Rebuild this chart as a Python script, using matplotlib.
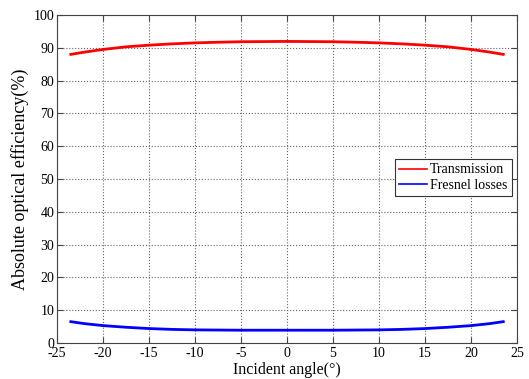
import numpy as np
import matplotlib.pyplot as plt

# Incident angle (deg)
angles = [-23.5, -22, -20, -17.5, -15, -12.5, -10, -7.5, -5, -2.5, 0,
          2.5, 5, 7.5, 10, 12.5, 15, 17.5, 20, 22, 23.5]

# Transmission (%)
transmission = [88.0, 88.7, 89.5, 90.3, 90.8, 91.2, 91.5, 91.7, 91.85, 91.9, 91.95,
                91.9, 91.85, 91.7, 91.5, 91.2, 90.8, 90.3, 89.5, 88.7, 88.0]

# Fresnel losses (%)
fresnel = [6.5, 5.9, 5.3, 4.8, 4.4, 4.15, 4.0, 3.95, 3.9, 3.9, 3.9,
           3.9, 3.9, 3.95, 4.0, 4.15, 4.4, 4.8, 5.3, 5.9, 6.5]

xticks = np.arange(-25, 26, 5)
yticks = np.arange(0, 101, 10)

plt.rcParams["font.family"] = ["Liberation Serif", "DejaVu Serif"]
plt.rcParams["axes.unicode_minus"] = False

fig = plt.figure(figsize=(5.29, 3.79), dpi=100)
ax = fig.add_axes([0.1078, 0.095, 0.8696, 0.8654])

ax.plot(angles, transmission, color="red", linewidth=2, label="Transmission")
ax.plot(angles, fresnel, color="blue", linewidth=2, label="Fresnel losses")

ax.set_xlim(-25, 25)
ax.set_ylim(0, 100)
ax.set_xticks(xticks)
ax.set_yticks(yticks)
ax.tick_params(direction="in", labelsize=10, length=4, top=True, right=True,
               color="#444444")
ax.tick_params(axis="x", pad=3)
ax.tick_params(axis="y", pad=2)

ax.grid(True, linestyle=":", color="#666666", linewidth=0.8)
ax.set_axisbelow(True)

ax.set_xlabel("Incident angle(°)", fontsize=11.5, labelpad=1)
ax.set_ylabel("Absolute optical efficiency(%)", fontsize=13, labelpad=3)

for s in ax.spines.values():
    s.set_color("#444444")

leg = ax.legend(
    loc="upper right",
    bbox_to_anchor=(0.988, 0.56),
    fontsize=10,
    fancybox=False,
    framealpha=1,
    edgecolor="#333333",
    handlelength=2.0,
    handletextpad=0.2,
    borderpad=0.3,
    borderaxespad=0,
    labelspacing=0.2,
)
leg.get_frame().set_linewidth(0.8)
for line in leg.get_lines():
    line.set_linewidth(1.2)

fig.savefig("out.png", dpi=100)
